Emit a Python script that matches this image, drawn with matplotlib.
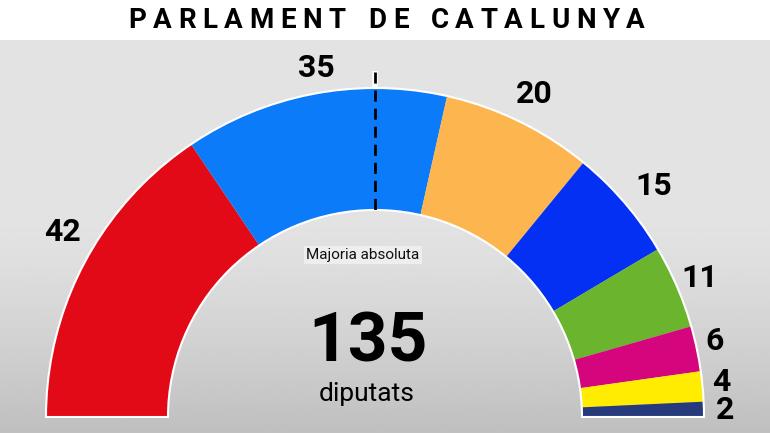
import numpy as np
import matplotlib
matplotlib.use('Agg')
import matplotlib.pyplot as plt
from matplotlib.patches import Wedge

# dades: escons per partit (Parlament de Catalunya)
escons = [42, 35, 20, 15, 11, 6, 4, 2]
colors = ['#e20a16', '#0b7bfa', '#fdb64f', '#0330f2', '#6ab42e', '#d5067d', '#ffec00', '#263a7c']
titol = 'PARLAMENT DE CATALUNYA'
total = sum(escons)
majoria_txt = 'Majoria absoluta'

W, H = 770, 433
# posicions de les etiquetes (pixels, y cap avall)
pos_etiquetes = [(63, 232), (316, 68), (534, 94), (654, 186), (700, 278), (715, 341), (721, 382), (725, 410)]

def py(y):
    return H - y

fig = plt.figure(figsize=(W / 100, H / 100), dpi=100)
ax = fig.add_axes([0, 0, 1, 1])
ax.set_xlim(0, W)
ax.set_ylim(0, H)
ax.axis('off')

# fons: franja blanca + degradat gris
fig.patch.set_facecolor('white')
top_gris = 40
ys = np.linspace(0, 1, 200)[:, None]
grad = 0.89 - 0.14 * np.clip((ys - 0.45) / 0.55, 0, 1) ** 1.3
grad = np.repeat(grad, 10, axis=1)
ax.imshow(grad, extent=[0, W, 0, py(top_gris)], cmap='gray', vmin=0, vmax=1,
          aspect='auto', origin='upper', zorder=0, interpolation='bilinear')

cx, cy = 375, py(417)
R, r = 329, 207

ang = 180.0
for n, c in zip(escons, colors):
    span = 180.0 * n / total
    ax.add_patch(Wedge((cx, cy), R, ang - span, ang, width=R - r, facecolor=c,
                       edgecolor='none', zorder=2))
    ang -= span
ax.add_patch(Wedge((cx, cy), R, 0, 180, width=R - r, facecolor='none',
                   edgecolor='white', lw=1.5, zorder=3))

# linia de majoria absoluta (contorn blanc nomes per sobre de l'arc)
ax.plot([cx, cx], [py(71), cy + R], color='white', lw=4, zorder=4, solid_capstyle='butt')
ax.plot([cx, cx], [py(72), py(216)], color='black', lw=2, ls=(0, (4, 2.5)), zorder=5)
ax.text(363, py(255), majoria_txt, ha='center', va='center', fontsize=11, family='Roboto',
        color='#111111', zorder=6,
        bbox=dict(boxstyle='square,pad=0.15', facecolor='#eeeeee', edgecolor='none'))

for n, (x, y) in zip(escons, pos_etiquetes):
    ax.text(x, py(y), str(n), ha='center', va='center', fontsize=23, fontweight='bold',
            family='Roboto', color='black', zorder=6)

ax.text(368, py(343), str(total), ha='center', va='center', fontsize=50, fontweight='bold',
        family='Roboto', color='black', zorder=6)
ax.text(367, py(394), 'diputats', ha='center', va='center', fontsize=19,
        family='Roboto', color='black', zorder=6)

# titol amb lletres espaiades: mesurem cada lletra i repartim l'espai
renderer = fig.canvas.get_renderer()
paraules = titol.split(' ')
lletres = []
for ch in titol.replace(' ', ''):
    t = ax.text(0, py(20), ch, ha='left', va='center', fontsize=20, fontweight='bold',
                family='Roboto', color='black', zorder=6)
    lletres.append((t, t.get_window_extent(renderer).width))
x_ini, x_fi = 128, 645
k_paraula = 3.3
n_regulars = len(lletres) - len(paraules)
ample_lletres = sum(w for _, w in lletres)
espai = (x_fi - x_ini - ample_lletres) / (n_regulars + k_paraula * (len(paraules) - 1))
x = x_ini
i = 0
for p in paraules:
    for _ in p:
        t, w = lletres[i]
        t.set_x(x)
        x += w + espai
        i += 1
    x += espai * (k_paraula - 1)

fig.savefig('out.png', dpi=100)
